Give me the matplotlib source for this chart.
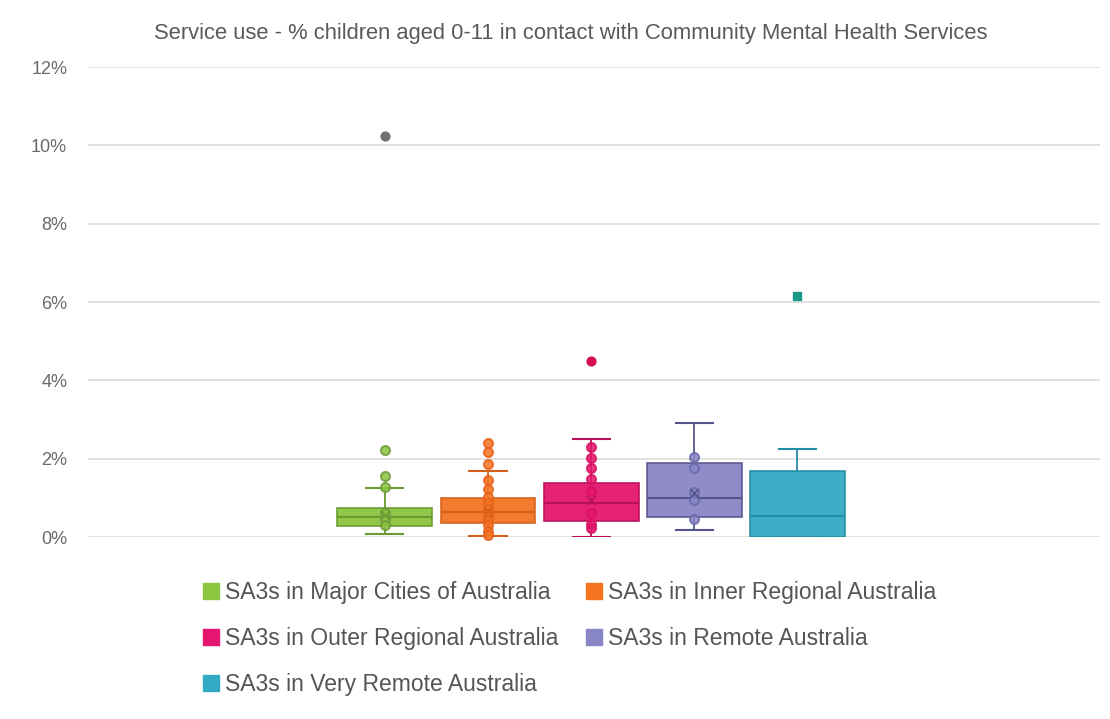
import matplotlib
matplotlib.use("Agg")
import matplotlib.pyplot as plt
from matplotlib.lines import Line2D
from matplotlib.ticker import FuncFormatter

plt.rcParams["font.family"] = ["Liberation Sans", "DejaVu Sans"]

title = "Service use - % children aged 0-11 in contact with Community Mental Health Services"

series = [
    "SA3s in Major Cities of Australia",
    "SA3s in Inner Regional Australia",
    "SA3s in Outer Regional Australia",
    "SA3s in Remote Australia",
    "SA3s in Very Remote Australia",
]

# Box statistics (% of children aged 0-11)
q1 = [0.28, 0.36, 0.41, 0.51, 0.00]
median = [0.51, 0.64, 0.87, 1.00, 0.54]
q3 = [0.74, 1.00, 1.38, 1.90, 1.69]
whisker_low = [0.08, 0.02, 0.00, 0.18, 0.00]
whisker_high = [1.25, 1.69, 2.50, 2.92, 2.25]
mean = [0.55, 0.66, 0.95, 1.12, None]

# Individual SA3 values shown as points
points = [
    [2.22, 1.56, 1.28, 0.62, 0.45, 0.30],
    [2.40, 2.17, 1.87, 1.46, 1.23, 1.02, 0.86, 0.72, 0.58, 0.44, 0.30, 0.16, 0.04],
    [2.30, 2.02, 1.76, 1.48, 1.18, 0.62, 0.33, 0.22],
    [2.05, 1.76, 1.15, 0.95, 0.45],
    [],
]

# Extreme outliers
outliers = [[10.25], [], [4.50], [], [6.15]]

fill_colors = ["#8cc540", "#f47421", "#e5166f", "#8986c6", "#33aac4"]
edge_colors = ["#6a9a30", "#d4601a", "#b8105a", "#55558e", "#238ea5"]
point_colors = ["#6f9a3a", "#e8601a", "#d8125f", "#6a6aa8", "#2a9aa8"]
outlier_colors = ["#707070", "#e8601a", "#d6104e", "#6a6aa8", "#1a9a86"]
outlier_markers = ["o", "o", "o", "o", "s"]

positions = list(range(len(series)))

fig = plt.figure(figsize=(11.10, 7.19), dpi=100)
ax = fig.add_axes([0.0793, 0.2531, 0.912, 0.6537])

stats = []
for i in positions:
    stats.append({
        "q1": q1[i], "med": median[i], "q3": q3[i],
        "whislo": whisker_low[i], "whishi": whisker_high[i],
        "fliers": [], "label": series[i],
    })

for i, s in enumerate(stats):
    ax.bxp(
        [s], positions=[positions[i]], widths=0.92, showfliers=False,
        patch_artist=True, manage_ticks=False,
        boxprops=dict(facecolor=fill_colors[i], edgecolor=edge_colors[i],
                      linewidth=1.2, alpha=0.95),
        medianprops=dict(color=edge_colors[i], linewidth=1.5),
        whiskerprops=dict(color=edge_colors[i], linewidth=1.3),
        capprops=dict(color=edge_colors[i], linewidth=1.5),
        capwidths=0.36, zorder=2,
    )
    if points[i]:
        ax.scatter([positions[i]] * len(points[i]), points[i], s=42,
                   facecolor=fill_colors[i], edgecolor=point_colors[i],
                   linewidth=1.5, alpha=0.85, zorder=3, clip_on=False)
    if mean[i] is not None:
        ax.scatter([positions[i]], [mean[i]], marker="x", s=40,
                   color=edge_colors[i], linewidth=1.2, zorder=4)
    if outliers[i]:
        ax.scatter([positions[i]] * len(outliers[i]), outliers[i], s=40,
                   marker=outlier_markers[i], color=outlier_colors[i],
                   zorder=4)

ax.set_xlim(-2.88, 6.94)
ax.set_ylim(0, 12)
ax.set_yticks([0, 2, 4, 6, 8, 10, 12])
ax.yaxis.set_major_formatter(FuncFormatter(lambda v, _: f"{v:.0f}%"))
ax.set_xticks([])
ax.grid(axis="y", color="#dcdcdc", linewidth=1.2)
ax.set_axisbelow(True)
for sp in ax.spines.values():
    sp.set_visible(False)
ax.tick_params(axis="y", length=0, pad=15, labelsize=13, labelcolor="#6a6a6a")

fig.text(0.514, 0.954, title, ha="center", va="center", fontsize=15.8,
         color="#5a5a5a")

# Legend laid out row by row
handles = [Line2D([], [], marker="s", linestyle="none", markersize=11,
                  markerfacecolor=fill_colors[i], markeredgecolor=fill_colors[i])
           for i in positions]
order = [0, 2, 4, 1, 3]
fig.legend([handles[i] for i in order], [series[i] for i in order],
           ncol=2, loc="upper left", bbox_to_anchor=(0.174, 0.205),
           frameon=False, fontsize=16.5, labelcolor="#555555",
           handlelength=0.8, handletextpad=0.2, columnspacing=1.15,
           labelspacing=1.0, borderaxespad=0)

fig.savefig("out.png", dpi=100, facecolor="white")
